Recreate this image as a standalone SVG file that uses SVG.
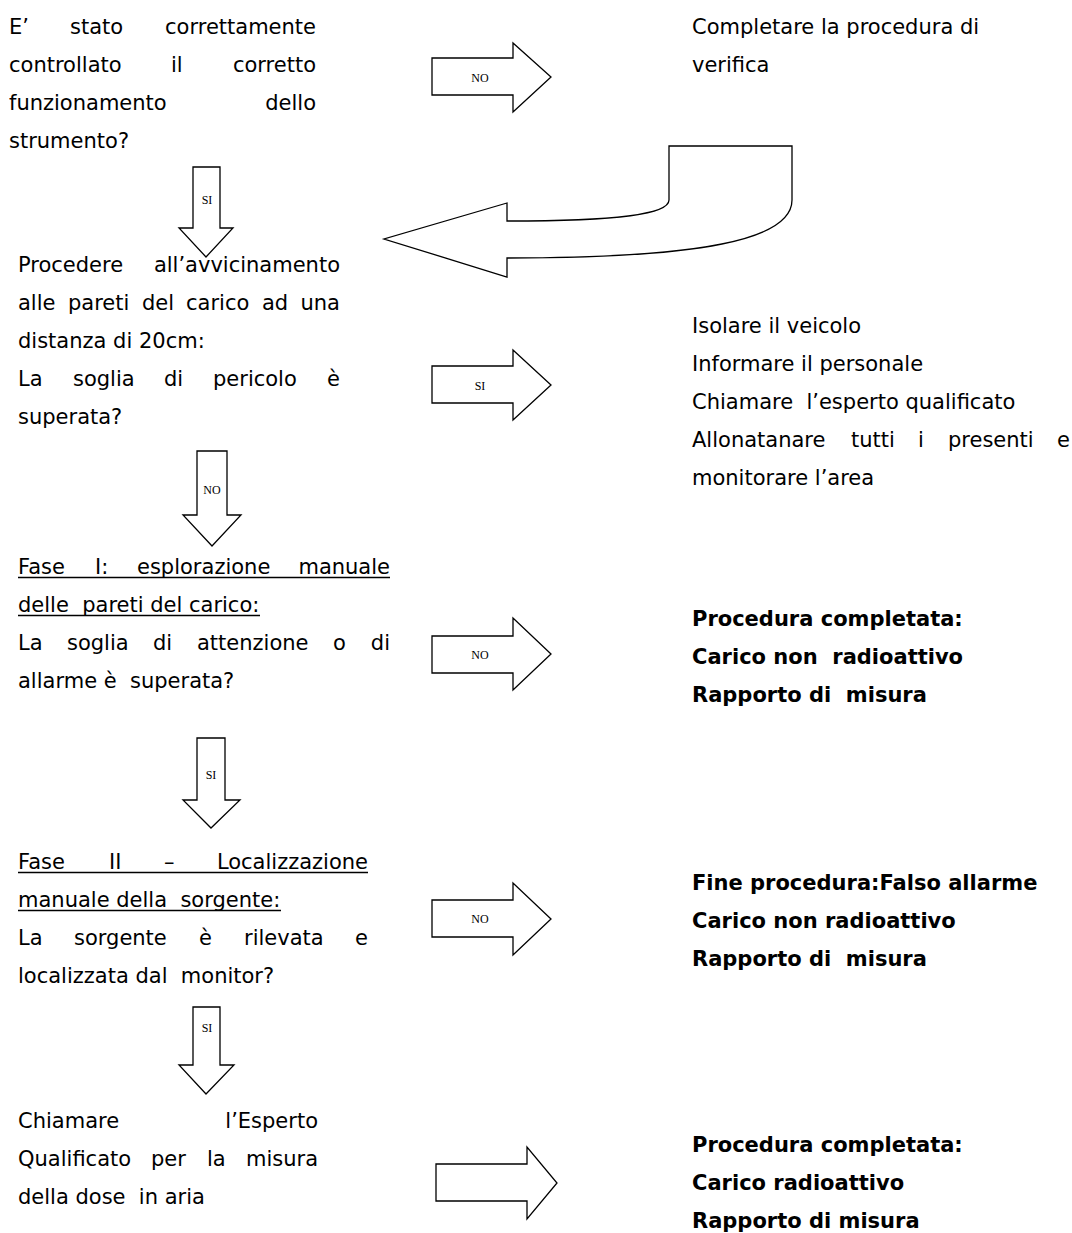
<svg xmlns="http://www.w3.org/2000/svg" width="1072" height="1233" viewBox="0 0 1072 1233">
<style>
text{font-family:"DejaVu Sans",Verdana,sans-serif;font-size:21px;fill:#000;white-space:pre}
.b{font-weight:bold}
.e{text-anchor:end}
.lbl{font-family:"Liberation Serif","DejaVu Serif",serif;font-size:12px;text-anchor:middle}
.ar{fill:#fff;stroke:#000;stroke-width:1.3;stroke-linejoin:miter}
.ul{stroke:#000;stroke-width:1.5}
</style>
<rect width="1072" height="1233" fill="#fff"/>
<g id="connectors">
<g id="arrow-no-1"><path class="ar" d="M432,58 H513 V43 L551,77 L513,112 V95 H432 Z"/><text class="lbl" x="480" y="82">NO</text></g>
<g id="arrow-si-1"><path class="ar" d="M193,167 H220 V228 H233 L206,257 L179,228 H193 Z"/><text class="lbl" x="207" y="204">SI</text></g>
<g id="arrow-back"><path class="ar" d="M669,146 H792 V200 C792,240 700,258 507,258 V277 L384,239 L507,203 V221 C620,221 669,214 669,200 Z"/></g>
<g id="arrow-si-2"><path class="ar" d="M432,366 H513 V350 L551,385 L513,420 V403 H432 Z"/><text class="lbl" x="480" y="390">SI</text></g>
<g id="arrow-no-2"><path class="ar" d="M197,451 H227 V515 H241 L212,546 L183,515 H197 Z"/><text class="lbl" x="212" y="494">NO</text></g>
<g id="arrow-no-3"><path class="ar" d="M432,636 H513 V618 L551,654 L513,690 V673 H432 Z"/><text class="lbl" x="480" y="659">NO</text></g>
<g id="arrow-si-3"><path class="ar" d="M197,738 H225 V800 H240 L211,828 L183,800 H197 Z"/><text class="lbl" x="211" y="779">SI</text></g>
<g id="arrow-no-4"><path class="ar" d="M432,900 H513 V883 L551,919 L513,955 V937 H432 Z"/><text class="lbl" x="480" y="923">NO</text></g>
<g id="arrow-si-4"><path class="ar" d="M193,1007 H220 V1065 H234 L206,1094 L179,1065 H193 Z"/><text class="lbl" x="207" y="1032">SI</text></g>
<g id="arrow-5"><path class="ar" d="M436,1164 H527 V1147 L557,1183 L527,1219 V1201 H436 Z"/></g>
</g>
<g id="q1">
<text x="9" y="34">E’</text><text x="70" y="34">stato</text><text class="e" x="316" y="34">correttamente</text>
<text x="9" y="72">controllato</text><text x="171" y="72">il</text><text class="e" x="316" y="72">corretto</text>
<text x="9" y="110">funzionamento</text><text class="e" x="316" y="110">dello</text>
<text x="9" y="148">strumento?</text>
</g>
<g id="r1">
<text x="692" y="34">Completare la procedura di</text>
<text x="692" y="72">verifica</text>
</g>
<g id="q2">
<text x="18" y="272">Procedere</text><text class="e" x="340" y="272">all’avvicinamento</text>
<text x="18" y="310">alle</text><text x="68" y="310">pareti</text><text x="142" y="310">del</text><text x="186" y="310">carico</text><text x="262" y="310">ad</text><text class="e" x="340" y="310">una</text>
<text x="18" y="348">distanza di 20cm:</text>
<text x="18" y="386">La</text><text x="73" y="386">soglia</text><text x="164" y="386">di</text><text x="213" y="386">pericolo</text><text class="e" x="340" y="386">è</text>
<text x="18" y="424">superata?</text>
</g>
<g id="r2">
<text x="692" y="333">Isolare il veicolo</text>
<text x="692" y="371">Informare il personale</text>
<text x="692" y="409">Chiamare  l’esperto qualificato</text>
<text x="692" y="447">Allonatanare</text><text x="851" y="447">tutti</text><text x="918" y="447">i</text><text x="948" y="447">presenti</text><text class="e" x="1070" y="447">e</text>
<text x="692" y="485">monitorare l’area</text>
</g>
<g id="q3">
<text x="18" y="574">Fase</text><text x="95" y="574">I:</text><text x="137" y="574">esplorazione</text><text class="e" x="390" y="574">manuale</text>
<line class="ul" x1="18" y1="577.5" x2="390" y2="577.5"/>
<text x="18" y="612">delle  pareti del carico:</text>
<line class="ul" x1="18" y1="615.5" x2="260" y2="615.5"/>
<text x="18" y="650">La</text><text x="67" y="650">soglia</text><text x="153" y="650">di</text><text x="197" y="650">attenzione</text><text x="333" y="650">o</text><text class="e" x="390" y="650">di</text>
<text x="18" y="688">allarme è  superata?</text>
</g>
<g id="r3">
<text class="b" x="692" y="626">Procedura completata:</text>
<text class="b" x="692" y="664">Carico non  radioattivo</text>
<text class="b" x="692" y="702">Rapporto di  misura</text>
</g>
<g id="q4">
<text x="18" y="869">Fase</text><text x="109" y="869">II</text><text x="164" y="869">–</text><text class="e" x="368" y="869">Localizzazione</text>
<line class="ul" x1="18" y1="872.5" x2="368" y2="872.5"/>
<text x="18" y="907">manuale della  sorgente:</text>
<line class="ul" x1="18" y1="910.5" x2="281" y2="910.5"/>
<text x="18" y="945">La</text><text x="74" y="945">sorgente</text><text x="199" y="945">è</text><text x="244" y="945">rilevata</text><text class="e" x="368" y="945">e</text>
<text x="18" y="983">localizzata dal  monitor?</text>
</g>
<g id="r4">
<text class="b" x="692" y="890">Fine procedura:Falso allarme</text>
<text class="b" x="692" y="928">Carico non radioattivo</text>
<text class="b" x="692" y="966">Rapporto di  misura</text>
</g>
<g id="q5">
<text x="18" y="1128">Chiamare</text><text class="e" x="318" y="1128">l’Esperto</text>
<text x="18" y="1166">Qualificato</text><text x="151" y="1166">per</text><text x="207" y="1166">la</text><text class="e" x="318" y="1166">misura</text>
<text x="18" y="1204">della dose  in aria</text>
</g>
<g id="r5">
<text class="b" x="692" y="1152">Procedura completata:</text>
<text class="b" x="692" y="1190">Carico radioattivo</text>
<text class="b" x="692" y="1228">Rapporto di misura</text>
</g>
</svg>
